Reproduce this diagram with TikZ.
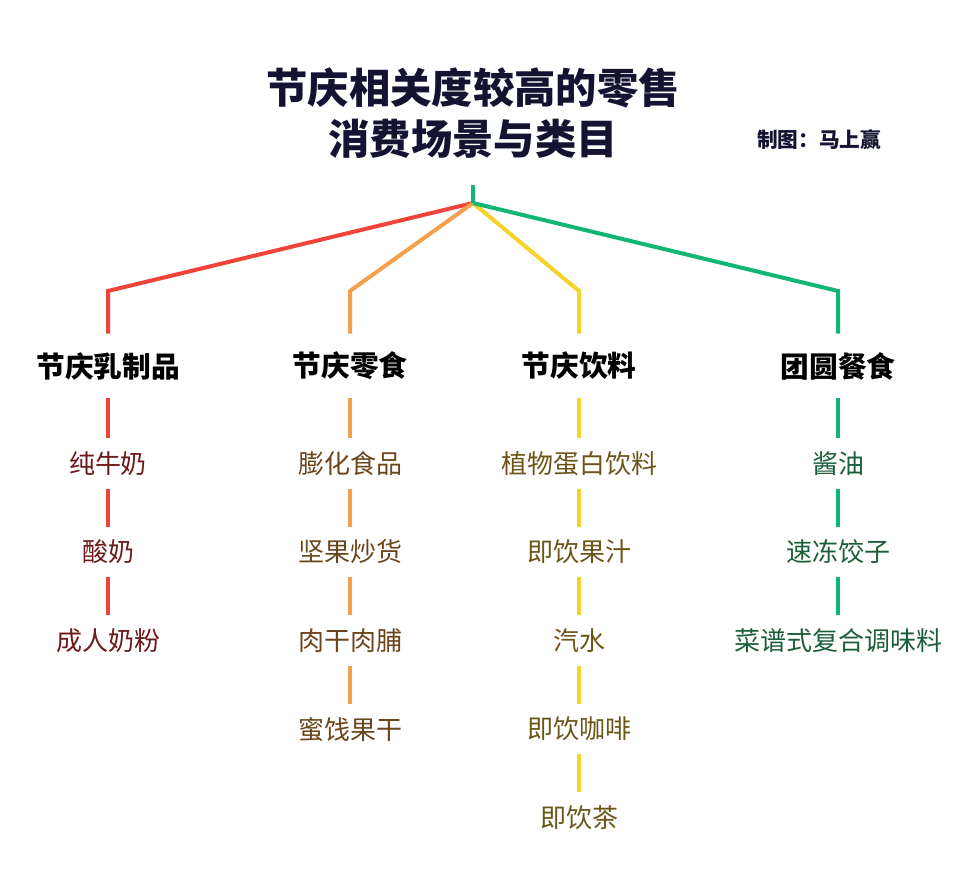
\documentclass[tikz,border=0pt]{standalone}
\usepackage{fontspec}
\setmainfont{Noto Sans CJK SC}
\usepackage{tikz}
\usetikzlibrary{positioning}

\definecolor{cRed}{HTML}{F0433A}
\definecolor{cOrange}{HTML}{F5A04C}
\definecolor{cYellow}{HTML}{F5D327}
\definecolor{cGreen}{HTML}{12B673}
\definecolor{tRed}{HTML}{6E1A1A}
\definecolor{tOrange}{HTML}{6B461C}
\definecolor{tYellow}{HTML}{6B5518}
\definecolor{tGreen}{HTML}{1B5E3A}
\definecolor{tTitle}{HTML}{141432}

\begin{document}
\begin{tikzpicture}[x=0.75pt,y=-0.75pt,
    cat/.style={font=\bfseries\fontsize{21.5}{24}\selectfont, minimum height=48pt, inner sep=0pt},
    leaf/.style={font=\fontsize{19.5}{22}\selectfont, minimum height=37.5pt, inner sep=0pt, below=28.5pt of #1},
    first/.style={font=\fontsize{19.5}{22}\selectfont, minimum height=37.5pt, inner sep=0pt, below=30pt of #1},
    branch/.style={line width=3pt},
    twig/.style={line width=2.7pt}]

      \useasboundingbox (0,0) rectangle (968,873);

      \node[text=tTitle, font=\bfseries\fontsize{31}{38}\selectfont, align=center] (title) at (473,113) {节庆相关度较高的零售\\消费场景与类目};
      \node[text=tTitle, font=\bfseries\fontsize{15.5}{18}\selectfont] (credit) at (819,140) {制图：马上赢};

      \coordinate (top) at (473,185);
      \coordinate (hub) at (473,203);
      \coordinate (elbow) at (0,291);

      \node[cat] (dairy) at (108,366) {节庆乳制品};
      \node[cat] (snack) at (350,366) {节庆零食};
      \node[cat] (drink) at (579,366) {节庆饮料};
      \node[cat] (meal)  at (838,366) {团圆餐食};

      \draw[branch, cRed]    (hub) -- (dairy |- elbow) -- (dairy);
      \draw[branch, cOrange] (hub) -- (snack |- elbow) -- (snack);
      \draw[branch, cYellow] (hub) -- (drink |- elbow) -- (drink);
      \draw[branch, cGreen]  (hub) -- (meal |- elbow) -- (meal);
      \draw[branch, cGreen]  (top) -- (hub);

      % 节庆乳制品
      \node[first=dairy, text=tRed] (milk) {纯牛奶};
      \node[leaf=milk, text=tRed] (yogurt) {酸奶};
      \node[leaf=yogurt, text=tRed] (powder) {成人奶粉};
      \draw[twig, cRed] (dairy) -- (milk) (milk) -- (yogurt) (yogurt) -- (powder);

      % 节庆零食
      \node[first=snack, text=tOrange] (puffed) {膨化食品};
      \node[leaf=puffed, text=tOrange] (nuts) {坚果炒货};
      \node[leaf=nuts, text=tOrange] (jerky) {肉干肉脯};
      \node[leaf=jerky, text=tOrange] (dried) {蜜饯果干};
      \draw[twig, cOrange] (snack) -- (puffed) (puffed) -- (nuts) (nuts) -- (jerky) (jerky) -- (dried);

      % 节庆饮料
      \node[first=drink, text=tYellow] (plant) {植物蛋白饮料};
      \node[leaf=plant, text=tYellow] (juice) {即饮果汁};
      \node[leaf=juice, text=tYellow] (soda) {汽水};
      \node[leaf=soda, text=tYellow] (coffee) {即饮咖啡};
      \node[leaf=coffee, text=tYellow] (tea) {即饮茶};
      \draw[twig, cYellow] (drink) -- (plant) (plant) -- (juice) (juice) -- (soda) (soda) -- (coffee) (coffee) -- (tea);

      % 团圆餐食
      \node[first=meal, text=tGreen] (soy) {酱油};
      \node[leaf=soy, text=tGreen] (dumpling) {速冻饺子};
      \node[leaf=dumpling, text=tGreen] (seasoning) {菜谱式复合调味料};
      \draw[twig, cGreen] (meal) -- (soy) (soy) -- (dumpling) (dumpling) -- (seasoning);

\end{tikzpicture}
\end{document}
